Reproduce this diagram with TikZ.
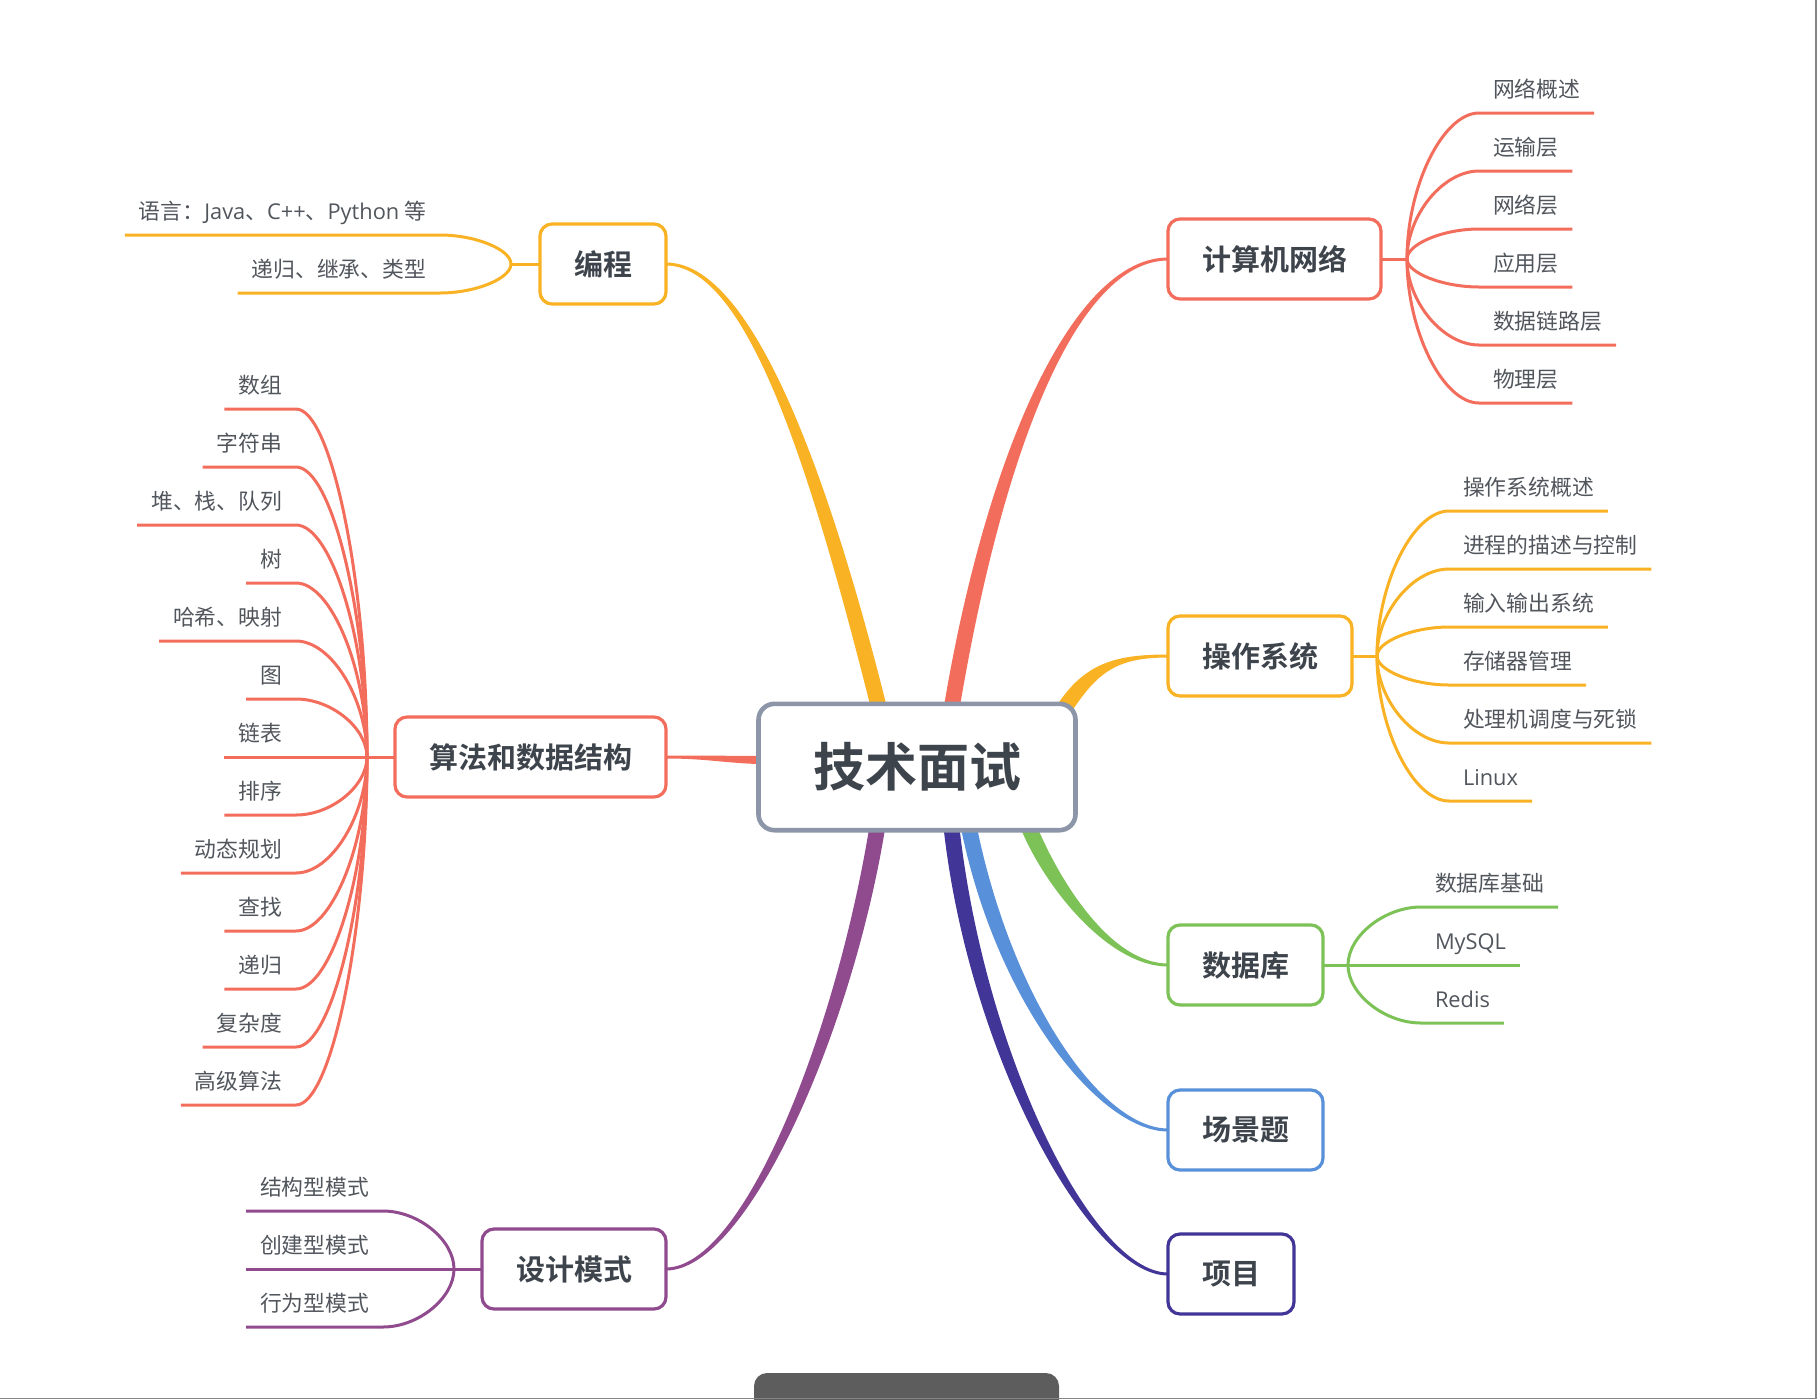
\documentclass[tikz,border=0pt]{standalone}
\usepackage{fontspec}
\setmainfont{Noto Sans CJK SC}[BoldFont={Noto Sans CJK SC Bold}]
\newfontfamily\enfont{Open Sans}
\usetikzlibrary{calc,backgrounds}

\definecolor{mmorange}{HTML}{F9B223}
\definecolor{mmred}{HTML}{F36D5C}
\definecolor{mmgreen}{HTML}{7CC257}
\definecolor{mmblue}{HTML}{5891DA}
\definecolor{mmnavy}{HTML}{413597}
\definecolor{mmpurple}{HTML}{904A8E}
\definecolor{mmgray}{HTML}{8C96A8}
\definecolor{mmtext}{HTML}{3E444C}
\definecolor{mmleaf}{HTML}{51565D}
\definecolor{barcol}{HTML}{5D5D5D}
\definecolor{framecol}{HTML}{858585}

% tapered main branch: [half width] colour, start, control 1, control 2, end
\newcommand{\mainlink}[6][3.2pt]{%
  \filldraw[#2, line width=1.5pt, line join=round]
    (#3) .. controls (#4) and ($(#5)!#1!-90:(#6)$) .. ($(#6)!#1!90:(#5)$)
    -- ($(#6)!#1!-90:(#5)$) .. controls ($(#5)!#1!90:(#6)$) and (#4) .. (#3) -- cycle;}

\begin{document}
\begin{tikzpicture}[x=0.5pt, y=-0.5pt,
  root/.style={draw=mmgray, line width=2.3pt, rounded corners=8pt, fill=white, text=mmtext, font=\fontsize{26pt}{30pt}\selectfont\bfseries, minimum width=158.5pt, minimum height=63.2pt},
  branch/.style={line width=1.6pt, rounded corners=6pt, fill=white, text=mmtext, font=\fontsize{14.5pt}{17pt}\selectfont\bfseries, inner xsep=17pt, minimum height=40pt, outer sep=0pt},
  leaf/.style={text=mmleaf, font=\fontsize{10.9pt}{13pt}\selectfont, inner xsep=7pt, inner ysep=8pt, text depth=0pt, outer sep=0pt},
  leafline/.style={line width=1.5pt, line join=round},
  leafto/.style={to path={.. controls ($(\tikztostart)!0.5!(\tikztostart|-\tikztotarget)$) and ($(\tikztotarget)!0.5!(\tikztostart|-\tikztotarget)$) .. (\tikztotarget) \tikztonodes}}]
\useasboundingbox (0,0) rectangle (1817,1399);

% centre and main topics
\node[root] (root) at (917,767) {技术面试};
\node[branch, draw=mmorange, anchor=east] (prog) at (666,264) {编程};
\node[branch, draw=mmred, anchor=east] (algo) at (666,757) {算法和数据结构};
\node[branch, draw=mmpurple, anchor=east] (design) at (666,1269) {设计模式};
\node[branch, draw=mmred, anchor=west] (net) at (1168,259) {计算机网络};
\node[branch, draw=mmorange, anchor=west] (os) at (1168,656) {操作系统};
\node[branch, draw=mmgreen, anchor=west] (db) at (1168,965) {数据库};
\node[branch, draw=mmblue, anchor=west] (scene) at (1168,1130) {场景题};
\node[branch, draw=mmnavy, anchor=west] (proj) at (1168,1274) {项目};

% ends of the main branches inside the centre box
\coordinate (rootP) at (880,712);
\coordinate (rootN) at (951,712);
\coordinate (rootO) at (1062,712);
\coordinate (rootA) at (768,760);
\coordinate (rootG) at (878,823);
\coordinate (rootJ) at (951,823);
\coordinate (rootS) at (968,823);
\coordinate (rootD) at (1027,823);

% fan points
\coordinate (progF) at (511,264);
\coordinate (algoF) at (367,757);
\coordinate (designF) at (454,1269);
\coordinate (netF) at (1407,259);
\coordinate (osF) at (1377,656);
\coordinate (dbF) at (1348,965);

% left leaves
\node[leaf, anchor=south east] (prog1) at (440,235) {语言：{\enfont Java}、{\enfont C++}、{\enfont Python} 等};
\node[leaf, anchor=south east] (prog2) at (440,293) {递归、继承、类型};

\node[leaf, anchor=south east] (algo1) at (296,409) {数组};
\node[leaf, anchor=south east] (algo2) at (296,467) {字符串};
\node[leaf, anchor=south east] (algo3) at (296,525) {堆、栈、队列};
\node[leaf, anchor=south east] (algo4) at (296,583) {树};
\node[leaf, anchor=south east] (algo5) at (296,641) {哈希、映射};
\node[leaf, anchor=south east] (algo6) at (296,699) {图};
\node[leaf, anchor=south east] (algo7) at (296,757) {链表};
\node[leaf, anchor=south east] (algo8) at (296,815) {排序};
\node[leaf, anchor=south east] (algo9) at (296,873) {动态规划};
\node[leaf, anchor=south east] (algo10) at (296,931) {查找};
\node[leaf, anchor=south east] (algo11) at (296,989) {递归};
\node[leaf, anchor=south east] (algo12) at (296,1047) {复杂度};
\node[leaf, anchor=south east] (algo13) at (296,1105) {高级算法};

\node[leaf, anchor=south east] (design1) at (383,1211) {结构型模式};
\node[leaf, anchor=south east] (design2) at (383,1269) {创建型模式};
\node[leaf, anchor=south east] (design3) at (383,1327) {行为型模式};

% right leaves
\node[leaf, anchor=south west] (net1) at (1479,113) {网络概述};
\node[leaf, anchor=south west] (net2) at (1479,171) {运输层};
\node[leaf, anchor=south west] (net3) at (1479,229) {网络层};
\node[leaf, anchor=south west] (net4) at (1479,287) {应用层};
\node[leaf, anchor=south west] (net5) at (1479,345) {数据链路层};
\node[leaf, anchor=south west] (net6) at (1479,403) {物理层};

\node[leaf, anchor=south west] (os1) at (1449,511) {操作系统概述};
\node[leaf, anchor=south west] (os2) at (1449,569) {进程的描述与控制};
\node[leaf, anchor=south west] (os3) at (1449,627) {输入输出系统};
\node[leaf, anchor=south west] (os4) at (1449,685) {存储器管理};
\node[leaf, anchor=south west] (os5) at (1449,743) {处理机调度与死锁};
\node[leaf, anchor=south west] (os6) at (1449,801) {\enfont Linux};

\node[leaf, anchor=south west] (db1) at (1421,907) {数据库基础};
\node[leaf, anchor=south west] (db2) at (1421,965) {\enfont MySQL};
\node[leaf, anchor=south west] (db3) at (1421,1023) {\enfont Redis};

\begin{pgfonlayer}{background}
\mainlink{mmorange}{prog.east}{746,264}{815,452}{rootP}
\mainlink{mmred}{net.west}{1075,259}{994,452}{rootN}
\mainlink{mmorange}{os.west}{1115,656}{1090,668}{rootO}
\mainlink[1.3pt]{mmred}{algo.east}{710,757}{730,760}{rootA}
\mainlink{mmgreen}{db.west}{1110,965}{1052,885}{rootD}
\mainlink{mmblue}{scene.west}{1100,1130}{1003,1000}{rootS}
\mainlink{mmnavy}{proj.west}{1090,1274}{975,1050}{rootJ}
\mainlink{mmpurple}{design.east}{746,1269}{845,1030}{rootG}

\draw[leafline, mmorange] (prog.west) -- (progF);
\draw[leafline, mmorange] (progF) to[leafto] (prog1.south east) -- (prog1.south west);
\draw[leafline, mmorange] (progF) to[leafto] (prog2.south east) -- (prog2.south west);

\draw[leafline, mmred] (algo.west) -- (algoF);
\draw[leafline, mmred] (algoF) to[leafto] (algo1.south east) -- (algo1.south west);
\draw[leafline, mmred] (algoF) to[leafto] (algo2.south east) -- (algo2.south west);
\draw[leafline, mmred] (algoF) to[leafto] (algo3.south east) -- (algo3.south west);
\draw[leafline, mmred] (algoF) to[leafto] (algo4.south east) -- (algo4.south west);
\draw[leafline, mmred] (algoF) to[leafto] (algo5.south east) -- (algo5.south west);
\draw[leafline, mmred] (algoF) to[leafto] (algo6.south east) -- (algo6.south west);
\draw[leafline, mmred] (algoF) to[leafto] (algo7.south east) -- (algo7.south west);
\draw[leafline, mmred] (algoF) to[leafto] (algo8.south east) -- (algo8.south west);
\draw[leafline, mmred] (algoF) to[leafto] (algo9.south east) -- (algo9.south west);
\draw[leafline, mmred] (algoF) to[leafto] (algo10.south east) -- (algo10.south west);
\draw[leafline, mmred] (algoF) to[leafto] (algo11.south east) -- (algo11.south west);
\draw[leafline, mmred] (algoF) to[leafto] (algo12.south east) -- (algo12.south west);
\draw[leafline, mmred] (algoF) to[leafto] (algo13.south east) -- (algo13.south west);

\draw[leafline, mmpurple] (design.west) -- (designF);
\draw[leafline, mmpurple] (designF) to[leafto] (design1.south east) -- (design1.south west);
\draw[leafline, mmpurple] (designF) to[leafto] (design2.south east) -- (design2.south west);
\draw[leafline, mmpurple] (designF) to[leafto] (design3.south east) -- (design3.south west);

\draw[leafline, mmred] (net.east) -- (netF);
\draw[leafline, mmred] (netF) to[leafto] (net1.south west) -- (net1.south east);
\draw[leafline, mmred] (netF) to[leafto] (net2.south west) -- (net2.south east);
\draw[leafline, mmred] (netF) to[leafto] (net3.south west) -- (net3.south east);
\draw[leafline, mmred] (netF) to[leafto] (net4.south west) -- (net4.south east);
\draw[leafline, mmred] (netF) to[leafto] (net5.south west) -- (net5.south east);
\draw[leafline, mmred] (netF) to[leafto] (net6.south west) -- (net6.south east);

\draw[leafline, mmorange] (os.east) -- (osF);
\draw[leafline, mmorange] (osF) to[leafto] (os1.south west) -- (os1.south east);
\draw[leafline, mmorange] (osF) to[leafto] (os2.south west) -- (os2.south east);
\draw[leafline, mmorange] (osF) to[leafto] (os3.south west) -- (os3.south east);
\draw[leafline, mmorange] (osF) to[leafto] (os4.south west) -- (os4.south east);
\draw[leafline, mmorange] (osF) to[leafto] (os5.south west) -- (os5.south east);
\draw[leafline, mmorange] (osF) to[leafto] (os6.south west) -- (os6.south east);

\draw[leafline, mmgreen] (db.east) -- (dbF);
\draw[leafline, mmgreen] (dbF) to[leafto] (db1.south west) -- (db1.south east);
\draw[leafline, mmgreen] (dbF) to[leafto] (db2.south west) -- (db2.south east);
\draw[leafline, mmgreen] (dbF) to[leafto] (db3.south west) -- (db3.south east);
\end{pgfonlayer}

% window edges
\fill[barcol, rounded corners=6.5pt] (754,1430) -- (754,1373) -- (1059,1373) -- (1059,1430) -- cycle;
\draw[framecol, line width=0.5pt] (0,1398.4) -- (1817,1398.4);
\draw[framecol, line width=1pt] (1816,0) -- (1816,1399);
\end{tikzpicture}
\end{document}
